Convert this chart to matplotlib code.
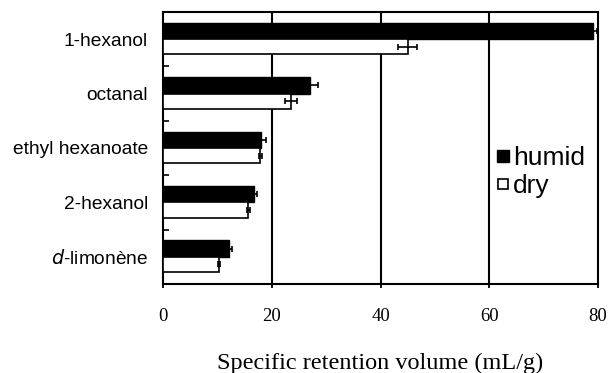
import matplotlib
matplotlib.use("Agg")
import matplotlib.pyplot as plt
from matplotlib.lines import Line2D
import numpy as np

compounds = ["1-hexanol", "octanal", "ethyl hexanoate", "2-hexanol", "$d$-limonène"]
humid = [79.1, 27.1, 18.1, 16.8, 12.2]
humid_err = [0.7, 1.4, 0.8, 0.5, 0.5]
dry = [45.0, 23.6, 17.9, 15.7, 10.3]
dry_err = [1.8, 1.1, 0.3, 0.3, 0.2]
xticks = [0, 20, 40, 60, 80]

fig = plt.figure(figsize=(6.13, 3.73), dpi=100)
ax = fig.add_axes([0.266, 0.2386, 0.7095, 0.7294])

y = np.arange(len(compounds))
h1, h2 = 0.30, 0.28
ax.barh(y - h1 / 2, humid, height=h1, color="black", edgecolor="black", lw=1, zorder=3)
ax.barh(y + h2 / 2, dry, height=h2, color="white", edgecolor="black", lw=1.2, zorder=3)
ax.errorbar(humid, y - h1 / 2, xerr=humid_err, fmt="none", ecolor="black",
            elinewidth=1.2, capsize=2.5, capthick=1.2, zorder=4)
ax.errorbar(dry, y + h2 / 2, xerr=dry_err, fmt="none", ecolor="black",
            elinewidth=1.2, capsize=2.5, capthick=1.2, zorder=4)

ax.set_xlim(0, 80)
ax.set_ylim(len(compounds) - 0.5, -0.5)
ax.set_xticks(xticks)
ax.set_xticklabels([str(v) for v in xticks], family="Liberation Serif", fontsize=13.5)
ax.tick_params(axis="x", direction="inout", length=6, width=1.3, pad=14)
ax.set_yticks(y)
ax.set_yticklabels(compounds, family="Liberation Sans", fontsize=13.8)
ax.tick_params(axis="y", length=0, pad=11)
ax.set_yticks(np.arange(len(compounds) + 1) - 0.5, minor=True)
ax.tick_params(axis="y", which="minor", direction="in", length=4, width=1.2)
for v in xticks[1:-1]:
    ax.axvline(v, color="black", lw=1.5, zorder=1)
for s in ax.spines.values():
    s.set_linewidth(1.5)

ax.set_xlabel("Specific retention volume (mL/g)", family="Liberation Serif",
              fontsize=17.5, labelpad=20)

handles = [
    Line2D([], [], marker="s", ls="none", markerfacecolor="black",
           markeredgecolor="black", markersize=8),
    Line2D([], [], marker="s", ls="none", markerfacecolor="white",
           markeredgecolor="black", markersize=7, markeredgewidth=1.2),
]
leg = ax.legend(handles, ["humid", "dry"], loc="center left",
                bbox_to_anchor=(0.732, 0.41), frameon=False,
                prop={"family": "Liberation Sans", "size": 19},
                handlelength=0.6, handletextpad=0.1, labelspacing=0.15,
                borderpad=0)

fig.savefig("out.png", dpi=100)
